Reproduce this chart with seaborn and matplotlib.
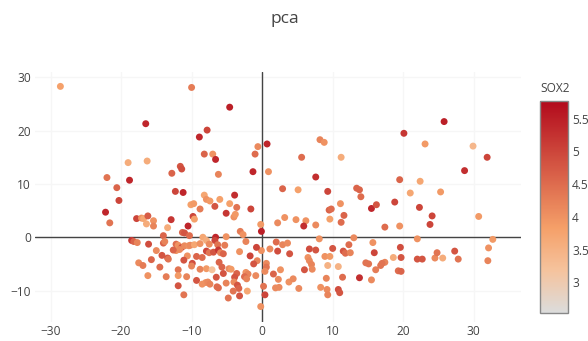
import matplotlib
matplotlib.use("Agg")
import matplotlib.pyplot as plt
import pandas as pd
import seaborn as sns
from matplotlib.colors import LinearSegmentedColormap, Normalize
from matplotlib.cm import ScalarMappable

# PCA scores (first two components) and SOX2 expression per sample
pc1 = [
    -28.6, -10.0, -4.6, -16.5, -7.8, -8.9, -8.2, -7.0, -6.6, -19.0, -16.3, -11.6, -11.4, -12.8, -6.2,
    -22.0, -18.8, -20.6, -12.3, -11.2, -20.3, -3.9, -8.2, -7.9, -7.4, -6.0, -4.6, -10.1, -9.7, -6.7,
    -3.6, -8.8, -22.2, -21.6, -5.1, -4.0, -3.8, -9.8, -9.6, -17.8, -17.1, -16.8, -16.2, -16.4, -15.4,
    -15.4, -12.9, -10.5, -13.4, -11.3, -11.0, -10.3, -14.0, -8.4, -6.6, -6.7, -5.1, -3.1, -2.7, -2.3,
    -18.5, -18.2, -17.7, -16.1, -14.0, -13.8, -12.2, -11.9, -11.4, -11.0, -10.4, -10.2, -9.6, -8.8, -7.9,
    -7.5, -6.3, -5.3, -12.2, -11.7, -15.0, -12.6, -7.9, -7.5, -6.9, -6.2, -5.9, -5.5, -3.2, -14.2,
    -13.4, -10.6, -9.3, -8.5, -13.3, -15.7, -11.1, -6.1, -1.7, -17.5, -16.9, -9.9, -10.0, -14.5, -11.9,
    -8.8, -7.9, -7.1, -5.7, -4.7, -4.4, -5.5, -3.6, -2.3, -2.0, -16.2, -13.6, -11.9, -10.7, -6.5,
    -2.5, -2.2, -3.9, -11.9, -9.3, -8.5, -8.0, -7.7, -7.4, -6.4, -6.2, -5.1, -4.0, -3.5, -3.3,
    -4.1, -2.1, -3.2, -4.8, -11.1,
    25.8, 20.1, 8.2, 8.8, 23.1, 29.9, -0.6, 0.7, -1.0, 5.6, 11.2, 31.9, -1.3, 0.9, 28.7,
    7.6, 19.5, 22.4, 2.9, 5.1, 13.4, 13.8, 14.0, 21.0, 25.3, 9.3, 11.1, 18.8, 9.5, 9.8,
    15.5, 16.2, 22.3, -1.6, 11.6, 3.2, 24.1, 30.7, 9.6, 11.2, 4.8, 6.2, 2.2, 5.9, 7.6,
    17.4, 19.5, 23.8, -0.2, -0.1, 8.1, 13.0, 22.0, 32.7, 2.0, 2.9, 3.6, 2.2, 1.1, -0.1,
    -0.8, 3.9, 6.7, 7.6, 10.0, 11.5, 11.8, 12.3, 12.5, 15.7, 15.9, 19.6, 19.7, 22.0, 22.7,
    24.5, 24.8, 25.6, 27.3, 27.8, 32.1, 32.0, 18.6, 8.9, 9.6, 6.5, 6.7, 7.0, 9.3, 10.8,
    6.0, 7.1, 14.7, 15.1, 16.1, 16.8, 17.4, 17.0, 19.3, 19.7, -0.7, -1.2, 0.6, 0.6, 0.4,
    1.6, 2.3, 2.6, 3.8, 4.4, 9.1, 11.4, 13.8, 15.5, 0.2, 1.9, 2.4, 5.2, 8.3, 9.2,
    9.3, 10.8, 11.0, 0.4, -0.2, -0.9,
]
pc2 = [
    28.3, 28.1, 24.4, 21.3, 20.1, 18.8, 15.6, 15.6, 14.6, 14.0, 14.3, 13.3, 12.8, 12.0, 11.8,
    11.2, 10.7, 9.3, 8.6, 8.4, 6.9, 7.9, 7.9, 7.1, 6.8, 7.1, 6.3, 6.1, 6.3, 5.8,
    5.6, 5.3, 4.7, 2.7, 4.5, 3.8, 4.3, 3.9, 3.4, 3.5, 3.6, 3.5, 4.0, 2.5, 3.1,
    2.1, 3.3, 2.1, 1.8, 0.9, 0.8, 0.3, 0.3, 0.0, 0.0, -0.6, 0.1, 1.1, 0.5, -0.8,
    -0.6, -0.8, -1.0, -1.3, -1.1, -0.8, -1.3, -1.5, -1.9, -1.6, -1.6, -1.5, -1.4, -1.2, -0.6,
    -1.3, -1.4, -1.5, -2.5, -2.3, -2.5, -2.4, -2.6, -2.9, -2.8, -2.4, -2.9, -3.1, -2.7, -3.4,
    -3.9, -3.5, -3.6, -3.8, -4.1, -4.2, -4.3, -4.7, -3.5, -4.8, -5.3, -4.9, -5.4, -5.6, -6.1,
    -6.0, -5.9, -6.1, -5.6, -5.9, -6.0, -6.8, -6.8, -6.6, -6.9, -7.2, -7.4, -7.2, -7.4, -7.5,
    -7.4, -7.8, -7.5, -9.1, -8.1, -8.8, -8.5, -8.4, -8.8, -9.3, -9.5, -8.6, -8.4, -9.0, -9.6,
    -10.1, -10.1, -11.0, -11.4, -10.8,
    21.7, 19.5, 18.3, 17.8, 17.5, 17.1, 17.0, 17.5, 15.6, 15.0, 15.0, 15.0, 12.3, 12.3, 12.5,
    11.3, 10.8, 10.5, 9.1, 8.9, 9.2, 8.9, 7.6, 8.3, 8.5, 8.6, 6.3, 6.6, 5.1, 5.3,
    5.4, 6.1, 5.6, 5.3, 4.1, 3.7, 4.0, 3.9, 3.4, 2.8, 3.3, 3.1, 2.7, 2.1, 2.3,
    1.9, 2.1, 2.4, 2.4, 1.1, -0.3, -0.1, -0.3, -0.4, -0.9, -1.4, -1.1, -2.6, -2.2, -2.5,
    -1.9, -3.1, -2.2, -2.4, -2.1, -2.6, -3.0, -1.4, -2.9, -1.0, -2.9, -1.9, -3.8, -4.1, -4.1,
    -3.9, -2.9, -3.9, -2.6, -4.1, -2.0, -4.4, -3.8, -3.6, -3.6, -3.8, -4.4, -5.1, -5.3, -5.5,
    -6.1, -6.0, -4.8, -5.0, -6.1, -5.3, -4.7, -4.9, -6.3, -6.4, -4.4, -5.0, -4.9, -5.6, -6.4,
    -6.9, -7.9, -6.1, -8.4, -7.8, -7.7, -7.5, -7.6, -8.0, -9.2, -9.5, -9.4, -9.6, -9.4, -9.8,
    -10.8, -9.8, -10.4, -10.8, -13.0, -7.2,
]
sox2 = [
    3.8, 4.3, 5.5, 5.4, 5.0, 5.4, 4.6, 4.0, 5.4, 3.6, 3.6, 4.8, 4.9, 4.6, 4.2,
    4.4, 5.4, 4.6, 5.0, 5.4, 5.0, 5.3, 3.7, 4.0, 3.9, 3.8, 3.8, 3.8, 3.9, 4.8,
    4.4, 4.3, 5.4, 4.4, 5.2, 4.0, 3.9, 5.0, 3.8, 5.0, 4.0, 3.7, 4.7, 3.6, 4.0,
    4.2, 5.2, 5.4, 3.6, 4.6, 4.8, 4.5, 4.6, 3.7, 5.4, 5.0, 4.0, 4.3, 4.0, 4.2,
    5.2, 4.6, 4.2, 4.9, 4.6, 4.2, 4.5, 4.0, 4.8, 4.1, 4.0, 4.1, 3.7, 4.0, 3.6,
    4.1, 4.4, 4.3, 4.0, 4.1, 4.1, 4.6, 5.0, 4.4, 4.8, 5.2, 4.2, 4.6, 4.0, 4.8,
    4.8, 4.0, 4.6, 4.5, 4.4, 4.6, 4.8, 4.6, 5.0, 4.1, 4.3, 4.9, 4.2, 4.5, 4.4,
    4.2, 3.9, 3.2, 4.6, 4.1, 3.9, 4.8, 4.6, 4.0, 4.2, 4.0, 4.3, 3.9, 4.2, 4.8,
    4.5, 4.2, 4.8, 4.8, 4.8, 4.0, 4.0, 4.1, 4.2, 4.5, 4.5, 4.2, 4.1, 4.8, 4.6,
    4.4, 3.7, 4.8, 4.4, 4.4,
    5.5, 5.2, 4.2, 4.0, 3.9, 3.4, 4.1, 5.4, 4.5, 4.5, 3.6, 5.0, 5.4, 4.0, 5.3,
    5.3, 4.6, 3.7, 4.6, 3.8, 4.6, 4.6, 4.5, 3.7, 3.9, 5.0, 4.0, 5.0, 4.6, 4.5,
    5.4, 4.8, 5.0, 5.0, 4.6, 4.0, 5.0, 3.9, 3.8, 4.5, 4.0, 4.0, 4.1, 5.3, 4.1,
    4.5, 4.0, 5.0, 3.9, 5.5, 4.0, 4.1, 4.0, 3.9, 4.5, 4.2, 4.1, 4.9, 4.1, 4.0,
    5.0, 4.8, 4.9, 4.8, 4.8, 4.8, 4.5, 4.5, 4.2, 4.0, 5.0, 4.9, 4.8, 4.8, 4.8,
    4.1, 4.4, 3.6, 4.8, 4.4, 4.0, 4.2, 3.6, 4.0, 3.9, 4.0, 4.1, 4.2, 3.5, 3.5,
    4.8, 4.1, 4.4, 4.4, 4.3, 4.4, 4.2, 4.4, 4.5, 4.6, 4.2, 4.8, 4.1, 4.4, 4.1,
    4.6, 4.1, 4.0, 4.0, 4.1, 4.2, 4.5, 5.3, 4.1, 4.4, 4.1, 4.1, 4.1, 4.0, 4.1,
    4.2, 4.9, 4.8, 5.0, 4.0, 4.1,
]

x_ticks = [-30, -20, -10, 0, 10, 20, 30]
y_ticks = [-10, 0, 10, 20, 30]
cbar_ticks = [3, 3.5, 4, 4.5, 5, 5.5]
cbar_labels = ["3", "3.5", "4", "4.5", "5", "5.5"]
sox2_range = (2.53, 5.77)

sns.set_theme(style="white")
plt.rcParams["font.family"] = ["Open Sans", "DejaVu Sans"]

text_color = "#444444"
reds = LinearSegmentedColormap.from_list(
    "reds",
    [(0.0, "#dcdcdc"), (0.2, "#f5c39d"), (0.4, "#f5a069"), (1.0, "#b20a1c")],
)

df = pd.DataFrame({"PC1": pc1, "PC2": pc2, "SOX2": sox2})

fig = plt.figure(figsize=(5.88, 3.41), dpi=100)
fig.patch.set_facecolor("white")
ax = fig.add_axes([35 / 588, 1 - 322 / 341, 486 / 588, 250 / 341])

sns.scatterplot(
    data=df, x="PC1", y="PC2", hue="SOX2", palette=reds, hue_norm=sox2_range,
    s=25, linewidth=0, legend=False, ax=ax, zorder=3,
)

ax.set_xlim(-32.2, 36.7)
ax.set_ylim(-15.9, 31.0)
ax.set_xticks(x_ticks)
ax.set_yticks(y_ticks)
ax.grid(True, color="#f6f6f6", linewidth=1, zorder=0)
ax.axhline(0, color=text_color, linewidth=1, zorder=2)
ax.axvline(0, color=text_color, linewidth=1, zorder=2)
for side in ax.spines.values():
    side.set_visible(False)
ax.set_xlabel("")
ax.set_ylabel("")
ax.tick_params(axis="x", length=0, pad=2, labelsize=8.6, labelcolor=text_color)
ax.tick_params(axis="y", length=0, pad=3, labelsize=8.6, labelcolor=text_color)

cax = fig.add_axes([540 / 588, 1 - 313 / 341, 28 / 588, 212 / 341])
mappable = ScalarMappable(norm=Normalize(*sox2_range), cmap=reds)
cbar = fig.colorbar(mappable, cax=cax)
cbar.set_ticks(cbar_ticks)
cbar.set_ticklabels(cbar_labels)
cbar.outline.set_edgecolor("#888888")
cbar.outline.set_linewidth(1)
cax.tick_params(length=0, pad=3, labelsize=8.6, labelcolor=text_color)

fig.text(555 / 588, 1 - 88 / 341, "SOX2", ha="center", va="center",
         fontsize=8.6, color=text_color)
fig.text(285 / 588, 1 - 19 / 341, "pca", ha="center", va="center",
         fontsize=12.5, color=text_color)

fig.savefig("out.png", dpi=100, facecolor="white")
